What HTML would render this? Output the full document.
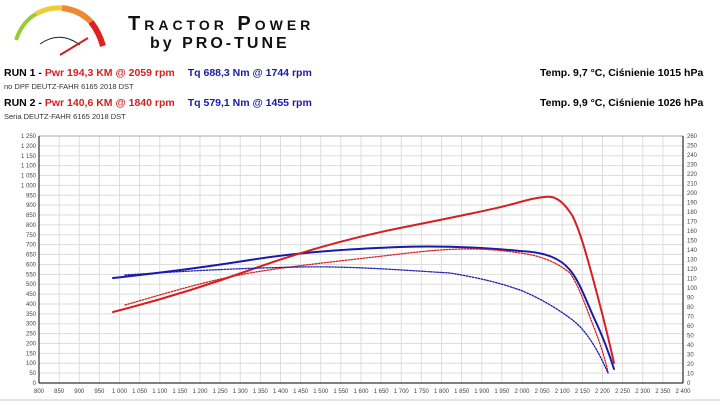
<!DOCTYPE html>
<html><head><meta charset="utf-8"><style>
body{margin:0;width:720px;height:405px;background:#fff;overflow:hidden;font-family:"Liberation Sans",sans-serif;}
.t{position:absolute;white-space:nowrap;font-weight:bold;font-size:10.5px;}
.s{position:absolute;white-space:nowrap;font-size:7.5px;color:#333;}
</style></head><body>
<svg width="720" height="405" style="position:absolute;left:0;top:0" id="sv">
<path d="M16,40 Q22,22 36,14" stroke="#9c3" stroke-width="4" fill="none"/>
<path d="M36,14 Q48,7 62,8" stroke="#ec3" stroke-width="5" fill="none"/>
<path d="M62,8 Q80,10 91,22" stroke="#e83" stroke-width="6" fill="none"/>
<path d="M91,22 Q99,32 103,46" stroke="#d22" stroke-width="6" fill="none"/>
<path d="M40,44 Q60,30 80,45" stroke="#222" stroke-width="1" fill="none"/>
<path d="M60,55 L88,38" stroke="#c22" stroke-width="2"/>
<g id="grid"></g>
<rect x="39" y="136" width="644" height="247" fill="none" stroke="#aaa"/>
<line x1="39" y1="136" x2="39" y2="383" stroke="#000"/>
<line x1="39" y1="383" x2="683" y2="383" stroke="#000"/>
<line x1="683" y1="136" x2="683" y2="383" stroke="#000"/>
<line x1="0" y1="400" x2="720" y2="400" stroke="#ccc"/>
<g fill="none" stroke-linejoin="round" stroke-linecap="round">
<path d="M113,278 C150,274 200,268 250,260 S350,249 400,247 S500,249 520,251 C545,252 560,258 570,270 C580,282 587,303 595,320 S608,350 614,369" stroke="#1a1aaa" stroke-width="2"/>
<path d="M113,312 C160,300 200,288 250,270 S350,238 400,228 S500,208 520,202 C535,198 545,196 552,197 C560,199 566,206 572,215 C580,230 588,260 596,290 S610,345 614,363" stroke="#d42020" stroke-width="2"/>
<path d="M125,305 C170,292 210,280 250,273 S350,260 400,254 S480,247 520,253 C545,256 560,265 570,273 C580,288 587,310 593,325 S604,355 608,372" stroke="#d42020" stroke-width="1.3" stroke-dasharray="1.5,1.5"/>
<path d="M125,275 C200,270 250,268 300,267 S400,270 450,273 C480,278 500,283 520,290 C540,298 560,310 575,322 C590,335 600,355 608,373" stroke="#1a1aaa" stroke-width="1.3" stroke-dasharray="1.5,1.5"/>
</g>
</svg>
<div style="position:absolute;left:128px;top:13px;font-size:20px;font-weight:bold;letter-spacing:4px;color:#111;font-variant:small-caps">Tractor Power</div>
<div style="position:absolute;left:150px;top:35px;font-size:16px;font-weight:bold;color:#111;letter-spacing:3px">by PRO-TUNE</div>
<div class="t" style="left:4px;top:67px"><span>RUN 1 - </span><span style="color:#d42020">Pwr 194,3 KM @ 2059 rpm</span><span style="color:#1a1aaa;margin-left:13px">Tq 688,3 Nm @ 1744 rpm</span></div>
<div class="s" style="left:4px;top:82px">no DPF DEUTZ-FAHR 6165 2018 DST</div>
<div class="t" style="left:4px;top:97px"><span>RUN 2 - </span><span style="color:#d42020">Pwr 140,6 KM @ 1840 rpm</span><span style="color:#1a1aaa;margin-left:13px">Tq 579,1 Nm @ 1455 rpm</span></div>
<div class="s" style="left:4px;top:112px">Seria DEUTZ-FAHR 6165 2018 DST</div>
<div class="t" style="left:540px;top:67px">Temp. 9,7 °C, Ciśnienie 1015 hPa</div>
<div class="t" style="left:540px;top:97px">Temp. 9,9 °C, Ciśnienie 1026 hPa</div>
<script>
var g=document.getElementById('grid'),h='';
function f(n){var s=String(n);return s.length>3?s.slice(0,s.length-3)+' '+s.slice(-3):s;}
for(var i=0;i<=32;i++){var x=39+i*20.125;h+='<line x1="'+x+'" y1="136" x2="'+x+'" y2="383" stroke="#ddd"/>';h+='<text x="'+x+'" y="393" font-size="6" text-anchor="middle" fill="#444" font-family="Liberation Sans">'+f(800+i*50)+'</text>';}
for(var j=0;j<=25;j++){var y=383-j*9.88;h+='<line x1="39" y1="'+y+'" x2="683" y2="'+y+'" stroke="#ddd"/>';h+='<text x="36" y="'+(y+2)+'" font-size="6" text-anchor="end" fill="#444" font-family="Liberation Sans">'+f(j*50)+'</text>';}
for(var k=0;k<=26;k++){var y=383-k*9.5;h+='<text x="687" y="'+(y+2)+'" font-size="6" fill="#444" font-family="Liberation Sans">'+(k*10)+'</text>';}
g.innerHTML=h;
</script>
</body></html>
